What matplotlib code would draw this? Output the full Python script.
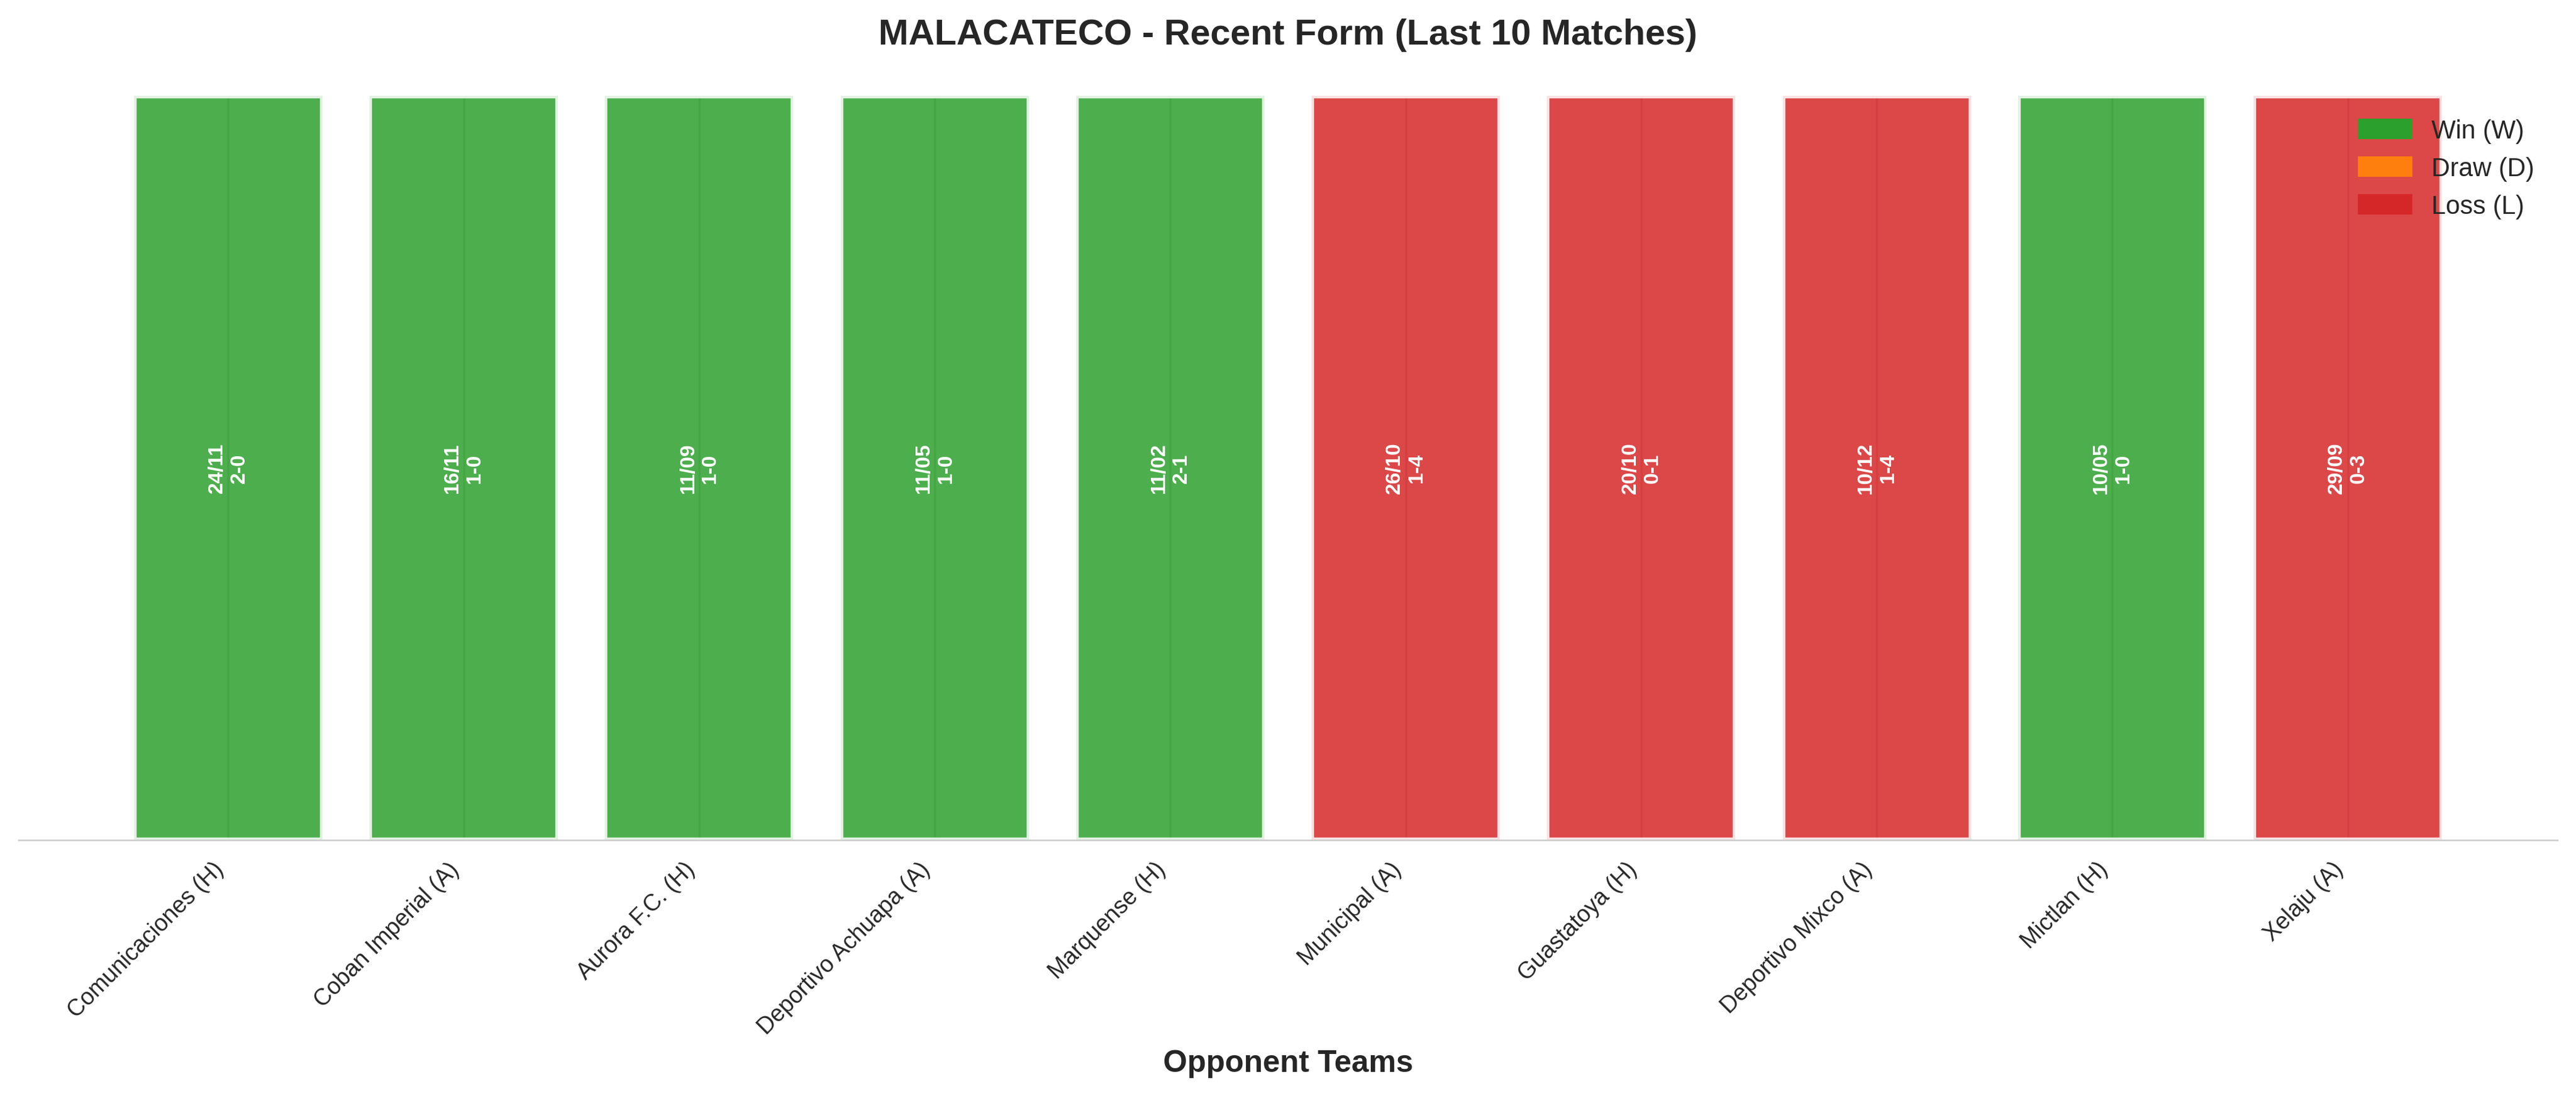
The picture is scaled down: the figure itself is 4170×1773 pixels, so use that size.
import matplotlib
matplotlib.use('Agg')
import matplotlib.pyplot as plt
from matplotlib.patches import Patch
import seaborn as sns

opponents = ['Comunicaciones (H)', 'Coban Imperial (A)', 'Aurora F.C. (H)', 'Deportivo Achuapa (A)',
             'Marquense (H)', 'Municipal (A)', 'Guastatoya (H)', 'Deportivo Mixco (A)',
             'Mictlan (H)', 'Xelaju (A)']
results = ['W', 'W', 'W', 'W', 'W', 'L', 'L', 'L', 'W', 'L']
dates = ['24/11', '16/11', '11/09', '11/05', '11/02', '26/10', '20/10', '10/12', '10/05', '29/09']
scores = ['2-0', '1-0', '1-0', '1-0', '2-1', '1-4', '0-1', '1-4', '1-0', '0-3']

result_colors = {'W': '#2ca02c', 'D': '#ff7f0e', 'L': '#d62728'}

sns.set_style('whitegrid')
plt.rcParams['font.family'] = ['Liberation Sans', 'DejaVu Sans']
plt.rcParams['text.color'] = '#262626'

fig, ax = plt.subplots(figsize=(14, 6))

x = list(range(len(opponents)))
colors = [result_colors[r] for r in results]
ax.bar(x, [1] * len(x), color=colors, alpha=0.85, edgecolor='white', linewidth=2, width=0.8)

for i, (d, s) in enumerate(zip(dates, scores)):
    ax.text(i, 0.5, f'{d}\n{s}', ha='center', va='center', rotation=90,
            color='white', fontweight='bold', fontsize=8)

ax.set_ylim(0, 1)
ax.set_yticks([])
ax.set_xticks(x)
ax.set_xticklabels(opponents, rotation=45, ha='right', fontsize=9, color='#262626')
ax.set_xlabel('Opponent Teams', fontsize=12, fontweight='bold', color='#262626')
ax.set_title('MALACATECO - Recent Form (Last 10 Matches)', fontsize=14, fontweight='bold', pad=20,
             color='#262626')

ax.grid(True, axis='x', color='#cccccc', linewidth=0.8)
ax.grid(False, axis='y')
ax.set_axisbelow(True)
for side in ['left', 'top', 'right']:
    ax.spines[side].set_visible(False)
ax.spines['bottom'].set_color('#cccccc')
ax.spines['bottom'].set_linewidth(0.6)

handles = [Patch(color=result_colors['W'], label='Win (W)'),
           Patch(color=result_colors['D'], label='Draw (D)'),
           Patch(color=result_colors['L'], label='Loss (L)')]
leg = ax.legend(handles=handles, loc='upper right', fontsize=10, frameon=False)
for t in leg.get_texts():
    t.set_color('#262626')

plt.tight_layout()
plt.savefig('out.png', dpi=300, bbox_inches='tight')
